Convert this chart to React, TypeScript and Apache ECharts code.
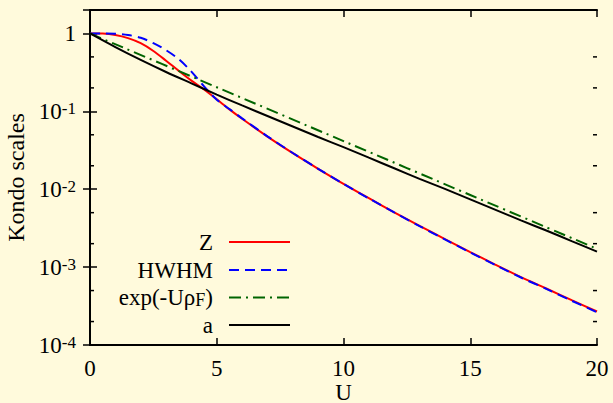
import React, { useEffect, useRef } from "react";
import * as echarts from "echarts";

// ---- data ----
const U_ZH = [0, 0.5, 1, 1.5, 2, 2.5, 3, 3.5, 4, 4.5, 5, 5.5, 6, 7, 8, 9, 10, 11, 12, 13, 14, 15, 16, 17, 18, 19, 20];
const Z_VALS = [1, 0.995, 0.955, 0.871, 0.75, 0.596, 0.447, 0.331, 0.248, 0.191, 0.143, 0.106, 0.0802, 0.0474, 0.029, 0.0183, 0.01172, 0.00766, 0.00506, 0.00339, 0.00229, 0.00156, 0.00107, 0.000743, 0.000531, 0.000376, 0.000269];
const HWHM_VALS = [1, 1.0, 0.993, 0.955, 0.881, 0.75, 0.61, 0.468, 0.324, 0.209, 0.141, 0.107, 0.0813, 0.0478, 0.0292, 0.0183, 0.0117, 0.00762, 0.00503, 0.00336, 0.00227, 0.00154, 0.00106, 0.000735, 0.000525, 0.00037, 0.000263];
const U_EXP = [0, 5, 10, 15, 20];
const EXP_VALS = [1, 0.204, 0.0415, 0.00843, 0.00172];
const U_A = [0, 1, 2, 3, 4, 5, 6, 7, 8, 9, 10, 11, 12, 13, 14, 15, 16, 17, 18, 19, 20];
const A_VALS = [1, 0.668, 0.457, 0.32, 0.229, 0.164, 0.119, 0.0871, 0.0638, 0.0468, 0.0347, 0.0254, 0.0186, 0.0136, 0.0101, 0.00741, 0.00543, 0.00398, 0.00295, 0.00216, 0.00158];
const X_TICKS_MIN = 0;
const X_TICKS_MAX = 20;
const X_INTERVAL = 5;
const Y_MIN = 1e-4;
const Y_MAX = 2;
const Y_MINOR = [2e-4, 5e-4, 2e-3, 5e-3, 0.02, 0.05, 0.2, 0.5];
const LEGEND_NAMES = ["Z", "HWHM", "exp(-Uρ_F)", "a"];

const FONT = "'Liberation Serif', 'Times New Roman', serif";
const BG = "#FFFADC";

export default function App() {
  const ref = useRef<HTMLDivElement>(null);
  useEffect(() => {
    const chart = echarts.init(ref.current!, null, { renderer: "svg" });
    const pair = (xs: number[], ys: number[]) => xs.map((x, i) => [x, ys[i]]);
    const colors = ["#FF0000", "#0000FF", "#006400", "#000000"];
    const dashes: any[] = ["solid", [10, 6], [12, 5, 2, 5], "solid"];
    const yLabel = (v: number) => {
      const e = Math.log10(v);
      const r = Math.round(e);
      if (Math.abs(e - r) > 1e-6) return "";
      if (r === 0) return "{m|1}";
      return `{m|10}{s|${r}}`;
    };
    const rich = {
      m: { fontSize: 23, fontFamily: FONT, color: "#000", lineHeight: 23, verticalAlign: "bottom" },
      s: { fontSize: 17, fontFamily: FONT, color: "#000", lineHeight: 17, verticalAlign: "top", padding: [0, 0, 9, 0] },
    };
    const legendRowY = [242, 270, 297.5, 325];
    const graphics: any[] = [];
    LEGEND_NAMES.forEach((name, i) => {
      let text = name;
      let r: any = undefined;
      if (name.includes("_")) {
        const [a, b] = name.split("_");
        r = {
          n: { fontSize: 23, fontFamily: FONT, fill: "#000", lineHeight: 23, verticalAlign: "top" },
          f: { fontSize: 18, fontFamily: FONT, fill: "#000", lineHeight: 18, verticalAlign: "bottom", padding: [12, 0, 0, 0] },
        };
        text = `{n|${a}}{f|${b.replace(")", "")}}{n|)}`;
      }
      graphics.push({
        type: "text",
        x: 213,
        y: legendRowY[i],
        style: {
          text,
          rich: r,
          fill: "#000",
          fontSize: 23,
          fontFamily: FONT,
          align: "right",
          verticalAlign: "middle",
        },
      });
      graphics.push({
        type: "line",
        shape: { x1: 229, y1: legendRowY[i], x2: 290, y2: legendRowY[i] },
        style: { stroke: colors[i], lineWidth: 2, lineDash: Array.isArray(dashes[i]) ? dashes[i] : null },
      });
    });

    const axisLine = { show: true, lineStyle: { color: "#000", width: 2 } };
    const option: any = {
      animation: false,
      backgroundColor: BG,
      textStyle: { fontFamily: FONT },
      grid: { left: 90, right: 16, top: 10, bottom: 58, containLabel: false, outerBoundsMode: "none" },
      xAxis: [
        {
          type: "value",
          min: X_TICKS_MIN,
          max: X_TICKS_MAX,
          interval: X_INTERVAL,
          position: "bottom",
          name: "U",
          nameLocation: "middle",
          nameGap: 37,
          nameMoveOverlap: false,
          nameTextStyle: { fontSize: 23, lineHeight: 20, fontFamily: FONT, color: "#000" },
          axisLine,
          axisTick: { inside: true, length: 7, lineStyle: { color: "#000", width: 1.5 } },
          axisLabel: { fontSize: 23, fontFamily: FONT, color: "#000", margin: 12 },
          splitLine: { show: false },
        },
        {
          type: "value",
          min: X_TICKS_MIN,
          max: X_TICKS_MAX,
          interval: X_INTERVAL,
          position: "top",
          axisLine,
          axisTick: { inside: true, length: 7, lineStyle: { color: "#000", width: 1.5 } },
          axisLabel: { show: false },
          splitLine: { show: false },
        },
      ],
      yAxis: [
        {
          type: "log",
          logBase: 10,
          min: Y_MIN,
          max: Y_MAX,
          position: "left",
          name: "Kondo scales",
          nameLocation: "middle",
          nameGap: 60,
          nameRotate: 90,
          nameTextStyle: { fontSize: 24, fontFamily: FONT, color: "#000" },
          axisLine,
          axisTick: { inside: true, length: 7, lineStyle: { color: "#000", width: 1.5 } },
          axisLabel: { formatter: yLabel, rich, margin: 14, showMaxLabel: false },
          splitLine: { show: false },
        },
        {
          type: "log",
          logBase: 10,
          min: Y_MIN,
          max: Y_MAX,
          position: "right",
          axisLine,
          axisTick: { inside: true, length: 7, lineStyle: { color: "#000", width: 1.5 } },
          axisLabel: { show: false },
          splitLine: { show: false },
        },
      ],
      series: [
        ...[
          pair(U_ZH, Z_VALS),
          pair(U_ZH, HWHM_VALS),
          pair(U_EXP, EXP_VALS),
          pair(U_A, A_VALS),
        ].map((d, i) => ({
          type: "line",
          name: LEGEND_NAMES[i],
          data: d,
          xAxisIndex: 0,
          yAxisIndex: 0,
          showSymbol: false,
          symbol: "none",
          smooth: 0.3,
          lineStyle: { color: colors[i], width: 2, type: dashes[i] },
          z: 2 + i,
        })),
        {
          type: "custom",
          xAxisIndex: 0,
          yAxisIndex: 0,
          data: Y_MINOR.map((v) => [X_TICKS_MIN, v]),
          renderItem: (params: any, api: any) => {
            const p = api.coord([X_TICKS_MIN, api.value(1)]);
            const q = api.coord([X_TICKS_MAX, api.value(1)]);
            return {
              type: "group",
              children: [
                { type: "line", shape: { x1: p[0], y1: p[1], x2: p[0] + 4, y2: p[1] }, style: { stroke: "#000", lineWidth: 1.5 } },
                { type: "line", shape: { x1: q[0], y1: q[1], x2: q[0] - 4, y2: q[1] }, style: { stroke: "#000", lineWidth: 1.5 } },
              ],
            };
          },
          z: 10,
          silent: true,
        },
      ],
      graphic: graphics,
    };
    chart.setOption(option);
    return () => chart.dispose();
  }, []);
  return <div ref={ref} style={{ position: "absolute", left: 0, top: 0, width: 613, height: 403, background: BG }} />;
}
